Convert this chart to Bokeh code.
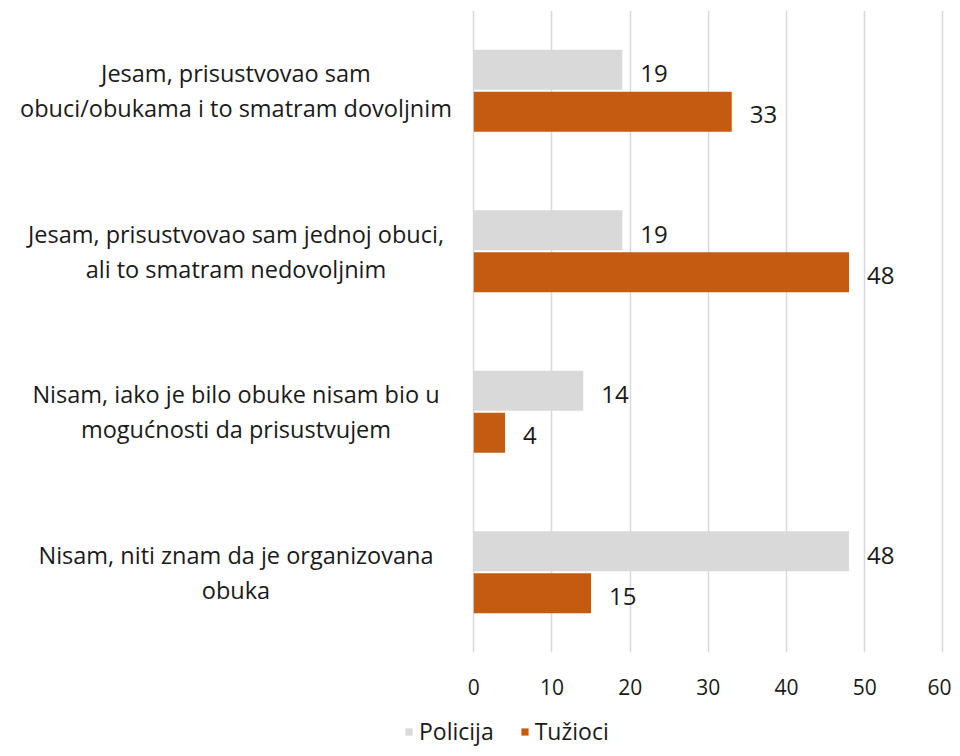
from bokeh.plotting import figure
from bokeh.layouts import column
from bokeh.models import (FactorRange, Range1d, FixedTicker, Legend, LegendItem,
                          ColumnDataSource, LinearAxis)
from bokeh.transform import dodge
from bokeh.core.properties import value
from bokeh.embed import file_html
from bokeh.resources import INLINE

# ---- data ----
categories = [
    "Jesam, prisustvovao sam\nobuci/obukama i to smatram dovoljnim",
    "Jesam, prisustvovao sam jednoj obuci,\nali to smatram nedovoljnim",
    "Nisam, iako je bilo obuke nisam bio u\nmogućnosti da prisustvujem",
    "Nisam, niti znam da je organizovana\nobuka",
]
policija = [19, 19, 14, 48]
tuzioci = [33, 48, 4, 15]
series_names = ["Policija", "Tužioci"]
x_ticks = [0, 10, 20, 30, 40, 50, 60]

FONT = "Open Sans"
GRAY = "#D9D9D9"
ORANGE = "#C55A11"
TXT = "#1a1a1a"

src = ColumnDataSource(dict(
    cat=categories,
    pol=policija,
    tuz=tuzioci,
    pol_lbl=[str(v) for v in policija],
    tuz_lbl=[str(v) for v in tuzioci],
))

x_start, x_end = -59.65, 61.11
p = figure(
    width=951, height=706, frame_width=944, frame_height=642,
    x_range=Range1d(x_start, x_end),
    y_range=FactorRange(factors=list(reversed(categories)), range_padding=0),
    output_backend="svg", toolbar_location=None,
    x_axis_location=None, y_axis_location=None,
    min_border_left=7, min_border_right=0, min_border_top=10, min_border_bottom=0,
)
p.outline_line_color = None
p.background_fill_color = "white"

ticker = FixedTicker(ticks=x_ticks)
xaxis = LinearAxis(ticker=ticker)
xaxis.axis_line_color = None
xaxis.major_tick_line_color = None
xaxis.minor_tick_line_color = None
xaxis.major_label_standoff = 20
xaxis.major_label_text_font = FONT
xaxis.major_label_text_font_size = "21px"
xaxis.major_label_text_color = TXT
p.add_layout(xaxis, "below")

p.xgrid.ticker = ticker
p.xgrid.grid_line_color = GRAY
p.xgrid.grid_line_width = 1.5
p.ygrid.visible = False

off = 0.131
bh = 0.249
p.hbar(y=dodge("cat", off, range=p.y_range), left=0, right="pol", height=bh,
       source=src, fill_color=GRAY, line_color=None)
p.hbar(y=dodge("cat", -off, range=p.y_range), left=0, right="tuz", height=bh,
       source=src, fill_color=ORANGE, line_color=None)

p.text(x="pol", y=dodge("cat", off, range=p.y_range), text="pol_lbl", source=src,
       x_offset=18, y_offset=4, text_align="left", text_baseline="middle",
       text_font=value(FONT), text_font_size="24px", text_color=TXT)
p.text(x="tuz", y=dodge("cat", -off, range=p.y_range), text="tuz_lbl", source=src,
       x_offset=18, y_offset=3, text_align="left", text_baseline="middle",
       text_font=value(FONT), text_font_size="24px", text_color=TXT)

label_x = x_start * 0.51
p.text(x=[label_x] * len(categories), y=categories, text=categories,
       text_align="center", text_baseline="middle", text_line_height=1.08,
       text_font=value(FONT), text_font_size="23.5px", text_color=TXT)

# ---- legend strip ----
q = figure(
    width=951, height=50,
    x_range=Range1d(0, 1), y_range=Range1d(0, 1),
    output_backend="svg", toolbar_location=None,
    x_axis_location=None, y_axis_location=None,
    min_border_left=0, min_border_right=0, min_border_top=0, min_border_bottom=0,
)
q.outline_line_color = None
q.xgrid.visible = False
q.ygrid.visible = False
# legend proxies: same series, drawn outside the strip's visible range
g1 = q.hbar(y=-10, left=0, right="pol", height=0.5, source=src,
            fill_color=GRAY, line_color=None)
g2 = q.hbar(y=-10, left=0, right="tuz", height=0.5, source=src,
            fill_color=ORANGE, line_color=None)

legend = Legend(items=[LegendItem(label=series_names[0], renderers=[g1]),
                       LegendItem(label=series_names[1], renderers=[g2])],
                orientation="horizontal", location=(397, 0))
legend.glyph_width = 9
legend.glyph_height = 9
legend.label_standoff = 6
legend.spacing = 26
legend.padding = 0
legend.margin = 0
legend.border_line_color = None
legend.background_fill_alpha = 0
legend.label_text_font = FONT
legend.label_text_font_size = "23px"
legend.label_text_color = TXT
q.add_layout(legend, "center")

layout = column(p, q, spacing=0)
open("out.html", "w").write(file_html(layout, INLINE))
